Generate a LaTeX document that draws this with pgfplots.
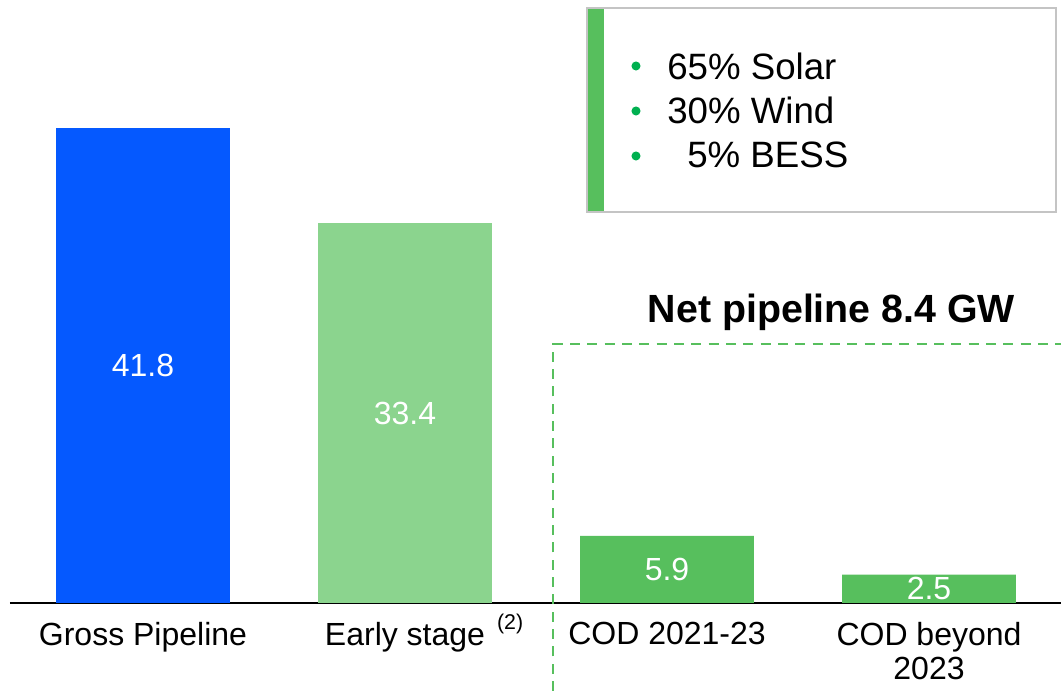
\documentclass[border=0pt]{standalone}
\usepackage{pgfplots}
\pgfplotsset{compat=1.18}
\usepackage{pgfplotstable}
\usepackage{fontspec}
\setmainfont{Liberation Sans}

\definecolor{grossblue}{HTML}{0559FF}
\definecolor{earlygreen}{HTML}{8BD48E}
\definecolor{netgreen}{HTML}{57BF5D}
\definecolor{bulletgreen}{HTML}{00B050}
\definecolor{framegray}{HTML}{C4C4C4}

% Pipeline in GW
\pgfplotstableread{
pos value
0 41.8
1 33.4
2 5.9
3 2.5
}\pipeline

\begin{document}
\begin{tikzpicture}
\useasboundingbox (0,0) rectangle (795.75pt,518.25pt);
\begin{axis}[
  at={(7.5pt,66pt)}, anchor=south west,
  scale only axis, width=788.25pt, height=452.25pt,
  xmin=-0.5076, xmax=3.5038, ymin=0, ymax=53.06,
  axis y line=none, axis x line*=bottom,
  x axis line style={line width=1.5pt, black},
  clip=false,
  xtick={0,1,2,3},
  xticklabels={Gross Pipeline,
    {Early stage\rlap{\hspace{9pt}\smash{\raisebox{11.5pt}{\fontsize{16}{16}\selectfont(2)}}}},
    COD 2021-23,
    {COD beyond\\2023}},
  major tick length=0pt,
  xticklabel style={anchor=north, inner sep=0pt, yshift=-14pt, align=center,
    font=\fontsize{24}{26}\selectfont},
  /pgf/number format/assume math mode=true,
]
\addplot[ybar, bar width=0.664, bar shift=0pt, fill=grossblue, draw=none,
  restrict x to domain=-0.1:0.1] table[x=pos, y=value]{\pipeline};
\addplot[ybar, bar width=0.664, bar shift=0pt, fill=earlygreen, draw=none,
  restrict x to domain=0.9:1.1] table[x=pos, y=value]{\pipeline};
\addplot[ybar, bar width=0.664, bar shift=0pt, fill=netgreen, draw=none,
  restrict x to domain=1.9:3.1] table[x=pos, y=value]{\pipeline};
% value labels centred inside each bar
\addplot[draw=none, mark=none, point meta=explicit,
  nodes near coords={\pgfmathprintnumber[fixed, precision=1]{\pgfplotspointmeta}},
  nodes near coords style={anchor=center, text=white, font=\fontsize{24}{24}\selectfont}]
  table[x=pos, y expr=\thisrow{value}/2, meta=value]{\pipeline};
\end{axis}

\begin{scope}[shift={(0pt,518.25pt)}, x=0.75pt, y=-0.75pt]
  % technology mix box
  \draw[framegray, line width=1.5pt] (587,8) rectangle (1056,212);
  \fill[netgreen] (588,9) rectangle (604,211);
  \foreach \yy in {66,111,156} \fill[bulletgreen] (636,\yy) circle (3.4pt);
  \node[anchor=base west, inner sep=0pt, font=\fontsize{27.5}{27.5}\selectfont] at (667,80) {65\% Solar};
  \node[anchor=base west, inner sep=0pt, font=\fontsize{27.5}{27.5}\selectfont] at (667,124) {30\% Wind};
  \node[anchor=base west, inner sep=0pt, font=\fontsize{27.5}{27.5}\selectfont] at (687,168) {5\% BESS};
  % net pipeline bracket
  \node[anchor=base, inner sep=0pt, font=\bfseries\fontsize{29.5}{29.5}\selectfont] at (831.5,323) {Net pipeline 8.4 GW};
  \draw[netgreen, line width=2.2pt, dash pattern=on 7.5pt off 5.5pt] (553,691) -- (553,344) -- (1061,344);
\end{scope}
\end{tikzpicture}
\end{document}
